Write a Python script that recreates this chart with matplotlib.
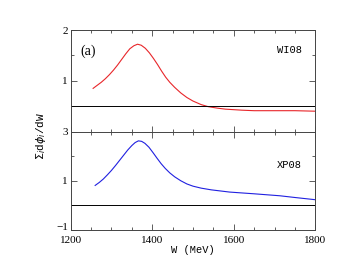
import numpy as np
import matplotlib
matplotlib.use("Agg")
import matplotlib.pyplot as plt
import matplotlib.transforms as mtransforms
from matplotlib.ticker import MultipleLocator, FixedLocator

# Data
w_wi08 = [1255, 1265, 1275, 1285, 1295, 1305, 1315, 1325, 1335, 1345, 1355, 1364, 1373, 1383, 1393, 1403,
          1413, 1423, 1433, 1443, 1455, 1470, 1485, 1500, 1520, 1537, 1560, 1580, 1600, 1620, 1650, 1700,
          1750, 1800]
y_wi08 = [0.85, 0.91, 0.97, 1.04, 1.12, 1.21, 1.31, 1.42, 1.53, 1.63, 1.69, 1.72, 1.70, 1.64, 1.55, 1.44,
          1.32, 1.19, 1.07, 0.97, 0.87, 0.76, 0.67, 0.60, 0.53, 0.49, 0.46, 0.44, 0.43, 0.42, 0.41, 0.41,
          0.41, 0.40]
w_xp08 = [1260, 1270, 1280, 1290, 1300, 1310, 1320, 1330, 1340, 1350, 1358, 1366, 1374, 1382, 1392, 1402,
          1412, 1422, 1432, 1443, 1455, 1470, 1485, 1500, 1520, 1545, 1570, 1590, 1650, 1713, 1750, 1800]
y_xp08 = [0.81, 0.93, 1.07, 1.24, 1.42, 1.62, 1.83, 2.04, 2.25, 2.43, 2.55, 2.62, 2.60, 2.52, 2.36, 2.14,
          1.91, 1.69, 1.50, 1.32, 1.16, 1.00, 0.87, 0.78, 0.70, 0.63, 0.58, 0.54, 0.47, 0.39, 0.32, 0.23]

top_ticks = [1, 2]
bot_ticks = [-1, 1, 3]

serif = ["Liberation Serif", "DejaVu Serif"]
mono = ["Liberation Mono", "DejaVu Sans Mono"]

fig = plt.figure(figsize=(3.49, 2.70), dpi=100)
W, H = 349, 270
x0, x1 = 70.7, 315.3
ax1 = fig.add_axes([x0 / W, 1 - 131.5 / H, (x1 - x0) / W, (131.5 - 30) / H])
ax2 = fig.add_axes([x0 / W, 1 - 230 / H, (x1 - x0) / W, (230 - 131.5) / H], sharex=ax1)

ax1.plot(w_wi08, y_wi08, color="#e8262a", lw=0.8)
ax1.axhline(0.5, color="black", lw=0.7)
ax1.set_ylim(0, 2)
ax1.yaxis.set_major_locator(FixedLocator(top_ticks))
ax1.yaxis.set_minor_locator(MultipleLocator(0.5))

ax2.plot(w_xp08, y_xp08, color="#2020e0", lw=0.8)
ax2.axhline(0, color="black", lw=0.7)
ax2.set_ylim(-1, 3)
ax2.yaxis.set_major_locator(FixedLocator(bot_ticks))
ax2.yaxis.set_minor_locator(MultipleLocator(1))

ax2.set_xlim(1200, 1800)
ax2.xaxis.set_major_locator(MultipleLocator(200))
ax2.xaxis.set_minor_locator(MultipleLocator(50))

for ax in (ax1, ax2):
    for s in ax.spines.values():
        s.set_linewidth(0.7)
        s.set_color("#444444")
    ax.tick_params(which="both", direction="in", top=True, right=True, width=0.6, color="#444444")
    ax.tick_params(which="major", length=4, labelsize=8, pad=2)
    ax.tick_params(which="minor", length=2)
ax2.tick_params(axis="x", which="major", pad=4)

ax1.tick_params(labelbottom=False)
ax1.text(0.04, 0.76, "(a)", transform=ax1.transAxes, fontsize=10, family=serif)
ax1.text(0.945, 0.77, "WI08", transform=ax1.transAxes, fontsize=7.5, family=mono, ha="right")
ax2.text(0.945, 0.63, "XP08", transform=ax2.transAxes, fontsize=7.5, family=mono, ha="right")

ax2.set_xlabel("W (MeV)", fontsize=7.5, family=mono, labelpad=0)
fig.text(41 / W, 1 - 136 / H, r"$\Sigma_i$d$\phi_i$/dW", rotation=90, fontsize=8,
         family=mono, ha="center", va="center")

for lab in ax2.get_xticklabels() + ax2.get_yticklabels() + ax1.get_yticklabels():
    lab.set_family(serif)

# nudge only the "-1" label up a little so it does not touch "1200"
fig.canvas.draw()
shift = mtransforms.ScaledTranslation(0, 2.5 / 72, fig.dpi_scale_trans)
for tick in ax2.yaxis.get_major_ticks():
    if tick.get_loc() == -1:
        tick.label1.set_transform(tick.label1.get_transform() + shift)

fig.savefig("out.png", dpi=100)
